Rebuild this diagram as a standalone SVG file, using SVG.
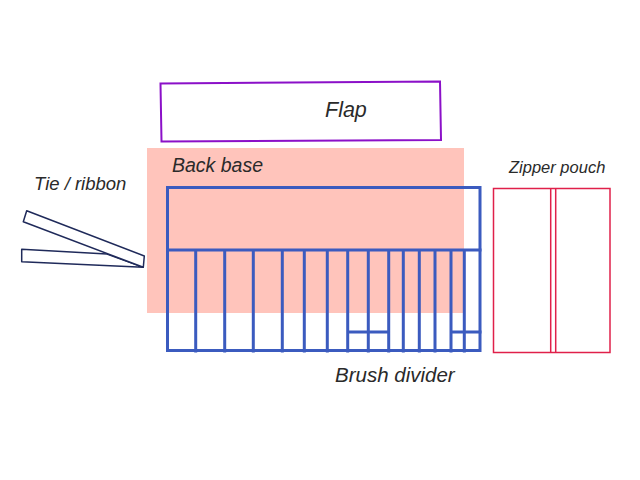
<svg xmlns="http://www.w3.org/2000/svg" width="640" height="480" viewBox="0 0 640 480">
<style>
.lbl{font-family:"Liberation Sans",Arial,sans-serif;font-style:italic;fill:#2a2a2a}
.div{stroke:#3b5bbf;stroke-width:3;fill:none;stroke-linecap:square}
.zip{stroke:#e0204a;stroke-width:1.5;fill:#fff}
.rib{stroke:#1f2a5a;stroke-width:1.5;fill:#fff;stroke-linejoin:round}
</style>
<rect width="640" height="480" fill="#fff"/>
<g id="back-base">
<rect x="147" y="148" width="317" height="165" fill="#ffc4bb"/>
<text class="lbl" x="172" y="172" font-size="19.5">Back base</text>
</g>
<g id="flap">
<path d="M160.5,83.5 L440,81.5 L441,140 L161.5,141.5 Z" fill="#fff" stroke="#8b10c8" stroke-width="2"/>
<text class="lbl" x="325" y="117" font-size="21.5">Flap</text>
</g>
<g id="brush-divider">
<rect x="167.5" y="187.5" width="312.5" height="163" class="div"/>
<path class="div" d="M167.5,250 H480 M195.7,250 V351 M224.7,250 V351 M253.3,250 V351 M282.3,250 V351 M304.3,250 V351 M327.3,250 V351 M347.7,250 V351 M368.3,250 V351 M388.7,250 V351 M403.3,250 V351 M419.3,250 V351 M435,250 V351 M451,250 V351 M464.3,250 V351 M347.7,332 H388.7 M451,332 H480"/>
<text class="lbl" x="335" y="382" font-size="20.5">Brush divider</text>
</g>
<g id="zipper-pouch">
<rect class="zip" x="493.5" y="188.5" width="116.5" height="164"/>
<path d="M550.7,188.5 V352.5 M555.7,188.5 V352.5" stroke="#e0204a" stroke-width="1.5" fill="none"/>
<text class="lbl" x="509" y="173" font-size="16.5">Zipper pouch</text>
</g>
<g id="tie-ribbon">
<path class="rib" d="M21.7,249.3 L107,254 L143.3,267.3 L21.7,261.7 Z"/>
<path class="rib" d="M26.7,210.7 L144.3,256 L143.3,267.3 L23.3,221.7 Z"/>
<text class="lbl" x="34" y="190" font-size="18.5">Tie / ribbon</text>
</g>
<g id="connectors"></g>
</svg>
